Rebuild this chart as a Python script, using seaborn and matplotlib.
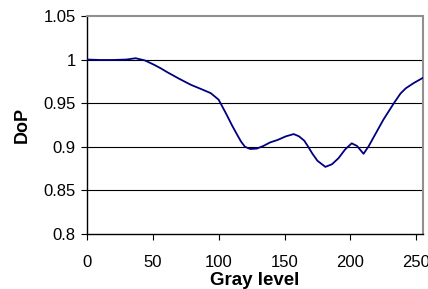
import pandas as pd
import seaborn as sns
from matplotlib import pyplot as plt

# values
gray_level = [0, 10, 20, 30, 37, 44, 51, 56, 61, 70, 79, 87, 94, 100, 106,
              110, 114, 117, 120, 124, 129, 134, 139, 145, 151, 157, 161,
              165, 168, 171, 175, 181, 186, 191, 196, 201, 205, 210, 214,
              218, 225, 233, 238, 242, 248, 255]
dop = [1.000, 0.9995, 0.9995, 1.000, 1.0015, 0.999, 0.994, 0.990, 0.9855,
       0.978, 0.971, 0.966, 0.9615, 0.954, 0.937, 0.925, 0.914, 0.906,
       0.900, 0.8975, 0.898, 0.901, 0.905, 0.908, 0.912, 0.9146, 0.912,
       0.907, 0.900, 0.8925, 0.884, 0.877, 0.880, 0.887, 0.897, 0.904,
       0.901, 0.892, 0.901, 0.912, 0.931, 0.950, 0.961, 0.967, 0.973, 0.979]

y_ticks = [0.8, 0.85, 0.9, 0.95, 1, 1.05]
y_tick_labels = ["0.8", "0.85", "0.9", "0.95", "1", "1.05"]
x_ticks = [0, 50, 100, 150, 200, 250]

df = pd.DataFrame({"Gray level": gray_level, "DoP": dop})

sns.set_style("white")
plt.rcParams["font.family"] = ["Liberation Sans", "DejaVu Sans"]
plt.rcParams["text.color"] = "black"
plt.rcParams["axes.labelcolor"] = "black"

fig = plt.figure(figsize=(4.28, 2.89), dpi=100)
ax = fig.add_axes([0.203, 0.19, 0.785, 0.755])

# black gridlines between the top and bottom ticks
for yv in y_ticks[1:-1]:
    ax.axhline(yv, color="black", lw=0.8, zorder=1)

sns.lineplot(data=df, x="Gray level", y="DoP", color="#000080", lw=1.3, ax=ax, zorder=3)

ax.set_xlim(0, 255)
ax.set_ylim(0.8, 1.05)
ax.set_xticks(x_ticks)
ax.set_yticks(y_ticks)
ax.set_yticklabels(y_tick_labels)
ax.tick_params(axis="both", direction="out", length=4, width=0.8,
               labelsize=12, colors="black", left=True, bottom=True)
ax.tick_params(axis="x", pad=11)
ax.tick_params(axis="y", pad=4)

ax.spines["left"].set_color("black")
ax.spines["bottom"].set_color("black")
ax.spines["top"].set_color("#909090")
ax.spines["right"].set_color("#909090")
for s in ax.spines.values():
    s.set_linewidth(1.0)
ax.spines["top"].set_linewidth(1.5)
ax.spines["right"].set_linewidth(1.5)

ax.set_xlabel("Gray level", fontsize=13.5, fontweight="bold", labelpad=1.5)
ax.set_ylabel("DoP", fontsize=13, fontweight="bold", labelpad=9)

fig.savefig("out.png", dpi=100)
